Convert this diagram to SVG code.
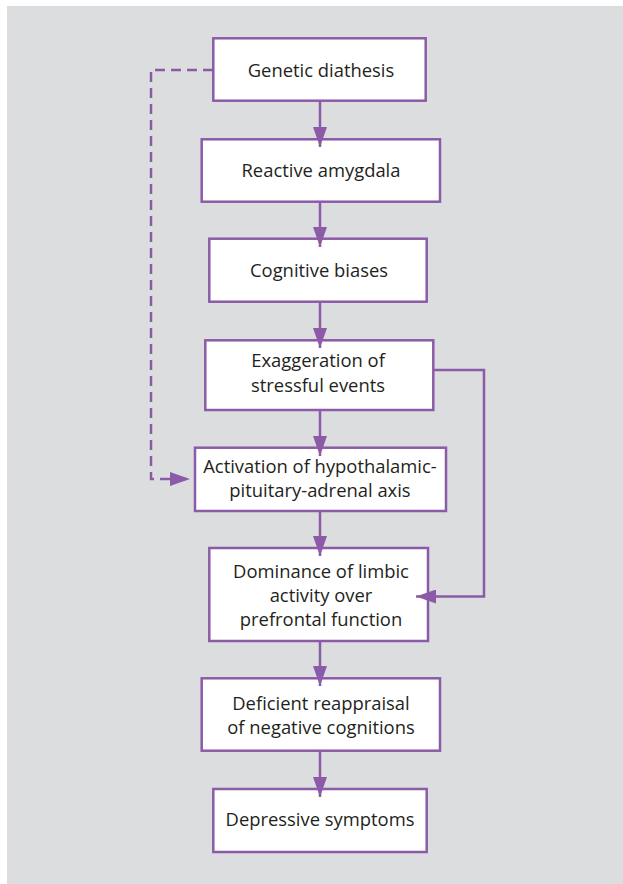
<svg xmlns="http://www.w3.org/2000/svg" width="623" height="884" viewBox="0 0 623 884">
<defs>
<style>
.box{fill:#ffffff;stroke:#8c5ba8;stroke-width:2.5}
.lbl{font-family:"Open Sans","Liberation Sans",sans-serif;font-size:18.4px;fill:#231f20;text-anchor:middle}
.con{fill:none;stroke:#8c5ba8;stroke-width:2.5}
.dash{stroke-dasharray:10 6}
</style>
<marker id="ah" markerUnits="userSpaceOnUse" markerWidth="20" markerHeight="14" refX="20" refY="7" orient="auto">
<path d="M0,0 L20,7 L0,14 Z" fill="#8c5ba8"/>
</marker>
</defs>
<rect x="7" y="6" width="616" height="878" fill="#dcdddf"/>
<g id="n1"><rect class="box" x="213.3" y="38.3" width="212.4" height="62.4"/><text class="lbl" x="321" y="77">Genetic diathesis</text></g>
<g id="n2"><rect class="box" x="201.7" y="139.3" width="238.3" height="62.4"/><text class="lbl" x="321" y="177">Reactive amygdala</text></g>
<g id="n3"><rect class="box" x="209.3" y="238.7" width="217.4" height="63"/><text class="lbl" x="319" y="277">Cognitive biases</text></g>
<g id="n4"><rect class="box" x="205.3" y="340.3" width="228" height="69.7"/><text class="lbl" x="318" y="367.3">Exaggeration of</text><text class="lbl" x="318" y="391.7">stressful events</text></g>
<g id="n5"><rect class="box" x="195" y="447.7" width="251" height="63.3"/><text class="lbl" x="320" y="473.3">Activation of hypothalamic-</text><text class="lbl" x="320" y="497.3">pituitary-adrenal axis</text></g>
<g id="n6"><rect class="box" x="209.3" y="548" width="218.7" height="93"/><text class="lbl" x="321" y="577.7">Dominance of limbic</text><text class="lbl" x="321" y="602">activity over</text><text class="lbl" x="321" y="625.5">prefrontal function</text></g>
<g id="n7"><rect class="box" x="201.7" y="678.3" width="238.3" height="72.4"/><text class="lbl" x="321" y="710">Deficient reappraisal</text><text class="lbl" x="321" y="734">of negative cognitions</text></g>
<g id="n8"><rect class="box" x="213.3" y="789" width="213.4" height="63"/><text class="lbl" x="320" y="826">Depressive symptoms</text></g>
<g id="connectors">
<line class="con" x1="320" y1="101" x2="320" y2="147" marker-end="url(#ah)"/>
<line class="con" x1="320" y1="202" x2="320" y2="247" marker-end="url(#ah)"/>
<line class="con" x1="320" y1="302" x2="320" y2="348" marker-end="url(#ah)"/>
<line class="con" x1="320" y1="410" x2="320" y2="456" marker-end="url(#ah)"/>
<line class="con" x1="320" y1="511" x2="320" y2="556" marker-end="url(#ah)"/>
<line class="con" x1="320" y1="641" x2="320" y2="686" marker-end="url(#ah)"/>
<line class="con" x1="320" y1="751" x2="320" y2="797" marker-end="url(#ah)"/>
<path class="con dash" d="M213,70 H151 V479 H190" marker-end="url(#ah)"/>
<path class="con" d="M433,370 H484 V596.5 H416" marker-end="url(#ah)"/>
</g>
</svg>
